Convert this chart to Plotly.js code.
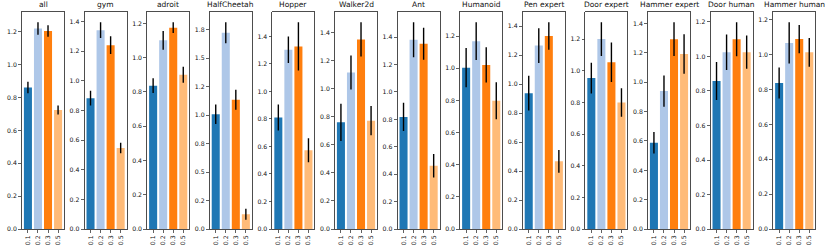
<!DOCTYPE html>
<html>
<head>
<meta charset="utf-8">
<script src="https://cdn.plot.ly/plotly-3.0.1.min.js"></script>
<style>
  html, body { margin: 0; padding: 0; background: #fff; }
  #chart { width: 830px; height: 245px; }
</style>
</head>
<body>
<div id="chart"></div>
<script>
// ---- data ----
const panels = ['all', 'gym', 'adroit', 'HalfCheetah', 'Hopper', 'Walker2d', 'Ant',
                'Humanoid', 'Pen expert', 'Door expert', 'Hammer expert', 'Door human', 'Hammer human'];
const categories = ['0.1', '0.2', '0.3', '0.5'];

const mean01 = [0.862, 0.883, 0.836, 1.008, 0.810, 0.761, 0.818, 1.004, 0.938, 0.954, 0.588, 0.858, 0.837];
const err01  = [0.035, 0.050, 0.043, 0.085, 0.095, 0.133, 0.103, 0.122, 0.120, 0.097, 0.074, 0.110, 0.089];
const mean02 = [1.220, 1.342, 1.101, 1.724, 1.303, 1.117, 1.381, 1.169, 1.267, 1.200, 0.940, 1.025, 1.067];
const err02  = [0.038, 0.053, 0.055, 0.092, 0.096, 0.122, 0.127, 0.117, 0.120, 0.106, 0.106, 0.103, 0.118];
const mean03 = [1.206, 1.241, 1.175, 1.136, 1.327, 1.353, 1.352, 1.021, 1.332, 1.054, 1.294, 1.100, 1.089];
const err03  = [0.035, 0.060, 0.031, 0.088, 0.175, 0.122, 0.117, 0.110, 0.095, 0.125, 0.115, 0.098, 0.081];
const mean05 = [0.724, 0.547, 0.900, 0.130, 0.573, 0.773, 0.461, 0.798, 0.467, 0.800, 1.193, 1.025, 1.013];
const err05  = [0.027, 0.035, 0.047, 0.048, 0.087, 0.104, 0.086, 0.115, 0.078, 0.090, 0.134, 0.096, 0.082];

// y tick step per panel and the special labels of HalfCheetah (matplotlib %.1f rounding)
const yTickStep = [0.2, 0.2, 0.2, 0.25, 0.2, 0.2, 0.2, 0.2, 0.2, 0.2, 0.2, 0.2, 0.2];
const hcTickText = ['0.0', '0.2', '0.5', '0.8', '1.0', '1.2', '1.5', '1.8'];

// ---- style ----
const barColors = ['#1f77b4', '#aec7e8', '#ff7f0e', '#ffbb78'];
const W = 830, H = 245;
const boxLeft0 = 22, boxStep = 62.6, boxW = 42;
const boxTop = 12, boxBottom = 229;
const tickFont = { family: 'DejaVu Sans, sans-serif', size: 6.2, color: '#111' };
const titleFont = { family: 'DejaVu Sans, sans-serif', size: 7.5, color: '#111' };
const spine = '#3a3a3a';

const traces = [];
const layout = {
  width: W, height: H,
  margin: { l: 0, r: 0, t: 0, b: 0 },
  paper_bgcolor: '#fff', plot_bgcolor: '#fff',
  showlegend: false,
  bargap: 0.2,
  annotations: []
};

panels.forEach((name, i) => {
  const vals = [mean01[i], mean02[i], mean03[i], mean05[i]];
  const errs = [err01[i], err02[i], err03[i], err05[i]];
  const sfx = i === 0 ? '' : String(i + 1);
  traces.push({
    type: 'bar',
    x: categories,
    y: vals,
    xaxis: 'x' + sfx,
    yaxis: 'y' + sfx,
    marker: { color: barColors, line: { width: 0 } },
    error_y: { type: 'data', array: errs, visible: true, color: '#000', thickness: 1.4, width: 0 },
    hoverinfo: 'none'
  });

  const top = Math.max(...vals.map((v, k) => v + errs[k])) * 1.05;
  const step = yTickStep[i];
  const tv = [];
  for (let t = 0; t <= top + 1e-9; t += step) tv.push(+t.toFixed(4));
  const tt = (name === 'HalfCheetah') ? hcTickText.slice(0, tv.length) : tv.map(t => t.toFixed(1));

  const left = boxLeft0 + i * boxStep;
  const xd = [left / W, (left + boxW) / W];
  const yd = [(H - boxBottom) / H, (H - boxTop) / H];

  layout['xaxis' + sfx] = {
    domain: xd, anchor: 'y' + sfx,
    type: 'category',
    range: [-0.59, 3.59],
    showgrid: false, zeroline: false,
    showline: true, mirror: true, linecolor: spine, linewidth: 0.9,
    ticks: 'outside', ticklen: 3, tickwidth: 0.8, tickcolor: spine,
    tickangle: -90, tickfont: tickFont,
    fixedrange: true
  };
  layout['yaxis' + sfx] = {
    domain: yd, anchor: 'x' + sfx,
    range: [0, top],
    tickvals: tv, ticktext: tt,
    showgrid: false, zeroline: false,
    showline: true, mirror: true, linecolor: spine, linewidth: 0.9,
    ticks: 'outside', ticklen: 3, tickwidth: 0.8, tickcolor: spine,
    tickfont: tickFont,
    fixedrange: true
  };
  layout.annotations.push({
    text: name,
    xref: 'paper', yref: 'paper',
    x: (left + boxW / 2) / W, y: (H - boxTop) / H,
    xanchor: 'center', yanchor: 'bottom', yshift: 1,
    showarrow: false, font: titleFont
  });
});

Plotly.newPlot('chart', traces, layout, { staticPlot: true, displayModeBar: false });
</script>
</body>
</html>
